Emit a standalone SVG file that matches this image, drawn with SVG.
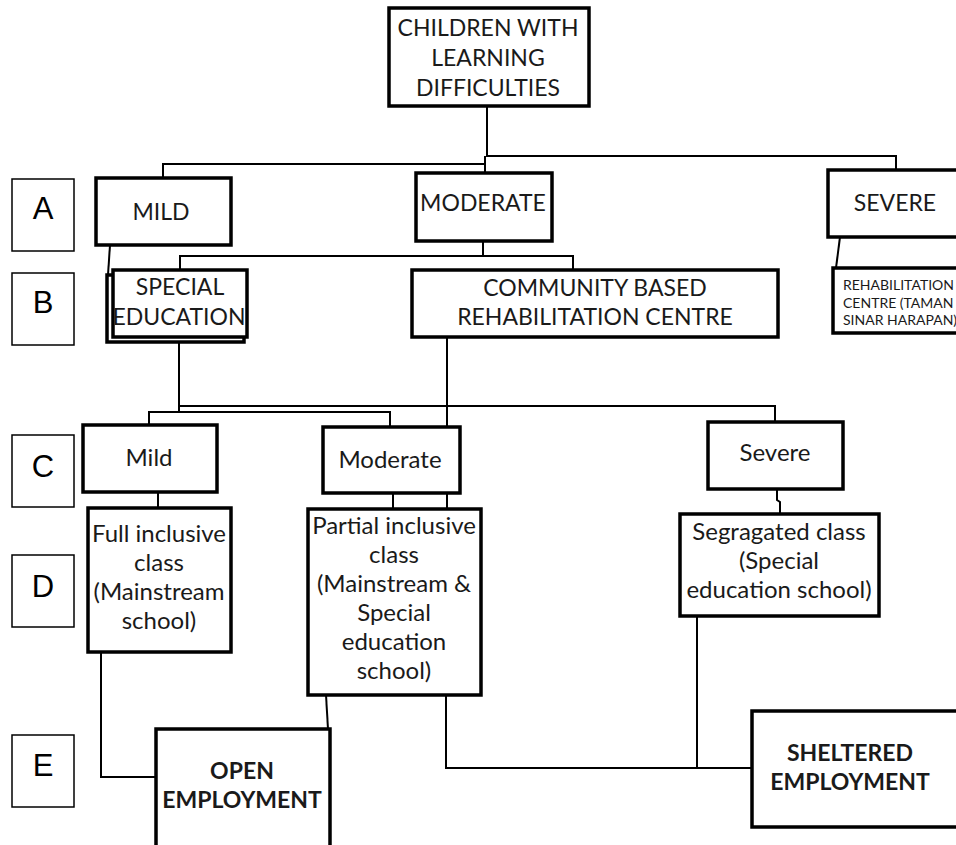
<svg xmlns="http://www.w3.org/2000/svg" width="956" height="845" viewBox="0 0 956 845">
<style>
.box{fill:#fff;stroke:#000;stroke-width:3.5}
.lab{fill:#fff;stroke:#000;stroke-width:1.5}
.t{font-family:Lato,"Open Sans",sans-serif;font-size:23px;fill:#1a1a1a;text-anchor:middle}
.m{font-family:Lato,"Open Sans",sans-serif;font-size:24px;fill:#1a1a1a;text-anchor:middle}
.s{font-family:Lato,"Open Sans",sans-serif;font-size:14px;fill:#1a1a1a}
.b{font-family:Lato,"Open Sans",sans-serif;font-size:23px;font-weight:bold;fill:#1a1a1a;text-anchor:middle}
.l{font-family:"Liberation Sans",Arial,sans-serif;font-size:31px;fill:#000;text-anchor:middle}
.c{fill:none;stroke:#000;stroke-width:2}
</style>
<rect width="956" height="845" fill="#fff"/>
<g id="connectors">
<path class="c" d="M487,107 V156 H896 V170"/>
<path class="c" d="M485,156 V173"/>
<path class="c" d="M163,178 V164 H485"/>
<path class="c" d="M483,241 V256"/>
<path class="c" d="M180,270 V256 H573 V270"/>
<path class="c" d="M110,245 L108,275"/>
<path class="c" d="M840,237 L836,268"/>
<path class="c" d="M179,342 V412"/>
<path class="c" d="M149,425 V412 H390 V427"/>
<path class="c" d="M179,406 H775 V422"/>
<path class="c" d="M447,337 V427"/>
<path class="c" d="M158,492 V508"/>
<path class="c" d="M393,493 V509"/>
<path class="c" d="M447,493 V509"/>
<path class="c" d="M777,489 V500 L780,502 V514"/>
<path class="c" d="M101,652 V777 H156"/>
<path class="c" d="M326,695 L328,729"/>
<path class="c" d="M446,695 V768 H752"/>
<path class="c" d="M697,616 V768"/>
</g>
<g id="labels">
<g id="labA"><rect class="lab" x="12" y="179" width="62" height="72"/><text class="l" x="43" y="219">A</text></g>
<g id="labB"><rect class="lab" x="12" y="273" width="62" height="72"/><text class="l" x="43" y="313">B</text></g>
<g id="labC"><rect class="lab" x="12" y="435" width="62" height="72"/><text class="l" x="43" y="477">C</text></g>
<g id="labD"><rect class="lab" x="12" y="555" width="62" height="72"/><text class="l" x="43" y="597">D</text></g>
<g id="labE"><rect class="lab" x="12" y="735" width="62" height="72"/><text class="l" x="43" y="776">E</text></g>
</g>
<g id="root"><rect class="box" x="389" y="8" width="200" height="98"/>
<text class="t" x="488" y="36">CHILDREN WITH</text><text class="t" x="488" y="66">LEARNING</text><text class="t" x="488" y="96">DIFFICULTIES</text></g>
<g id="mildA"><rect class="box" x="96" y="178" width="135" height="67"/><text class="t" x="161" y="220">MILD</text></g>
<g id="moderateA"><rect class="box" x="416" y="173" width="136" height="68"/><text class="t" x="483" y="211">MODERATE</text></g>
<g id="severeA"><rect class="box" x="828" y="170" width="140" height="67"/><text class="t" x="895" y="211">SEVERE</text></g>
<g id="special"><rect class="box" x="107" y="275" width="137" height="67"/><rect class="box" x="113" y="270" width="134" height="67"/>
<text class="t" x="180" y="295">SPECIAL</text><text class="t" x="179" y="325">EDUCATION</text></g>
<g id="community"><rect class="box" x="412" y="270" width="366" height="67"/>
<text class="t" x="595" y="296">COMMUNITY BASED</text><text class="t" x="595" y="325">REHABILITATION CENTRE</text></g>
<g id="rehab"><rect class="box" x="833" y="268" width="140" height="65"/>
<text class="s" x="843" y="290">REHABILITATION</text><text class="s" x="843" y="308">CENTRE (TAMAN</text><text class="s" x="843" y="325">SINAR HARAPAN)</text></g>
<g id="mildC"><rect class="box" x="83" y="425" width="134" height="67"/><text class="m" x="149" y="466">Mild</text></g>
<g id="moderateC"><rect class="box" x="323" y="427" width="137" height="66"/><text class="m" x="390" y="468">Moderate</text></g>
<g id="severeC"><rect class="box" x="708" y="422" width="135" height="67"/><text class="m" x="775" y="461">Severe</text></g>
<g id="full"><rect class="box" x="88" y="508" width="143" height="144"/>
<text class="m" x="159" y="542">Full inclusive</text><text class="m" x="159" y="571">class</text><text class="m" x="159" y="600">(Mainstream</text><text class="m" x="159" y="629">school)</text></g>
<g id="partial"><rect class="box" x="308" y="509" width="173" height="186"/>
<text class="m" x="394" y="534">Partial inclusive</text><text class="m" x="394" y="563">class</text><text class="m" x="394" y="592">(Mainstream &amp;</text><text class="m" x="394" y="621">Special</text><text class="m" x="394" y="650">education</text><text class="m" x="394" y="679">school)</text></g>
<g id="segregated"><rect class="box" x="680" y="514" width="199" height="102"/>
<text class="m" x="779" y="540">Segragated class</text><text class="m" x="779" y="569">(Special</text><text class="m" x="779" y="598">education school)</text></g>
<g id="open"><rect class="box" x="156" y="729" width="174" height="130"/>
<text class="b" x="242" y="779">OPEN</text><text class="b" x="242" y="808">EMPLOYMENT</text></g>
<g id="sheltered"><rect class="box" x="752" y="711" width="220" height="116"/>
<text class="b" x="850" y="761">SHELTERED</text><text class="b" x="850" y="790">EMPLOYMENT</text></g>
</svg>
